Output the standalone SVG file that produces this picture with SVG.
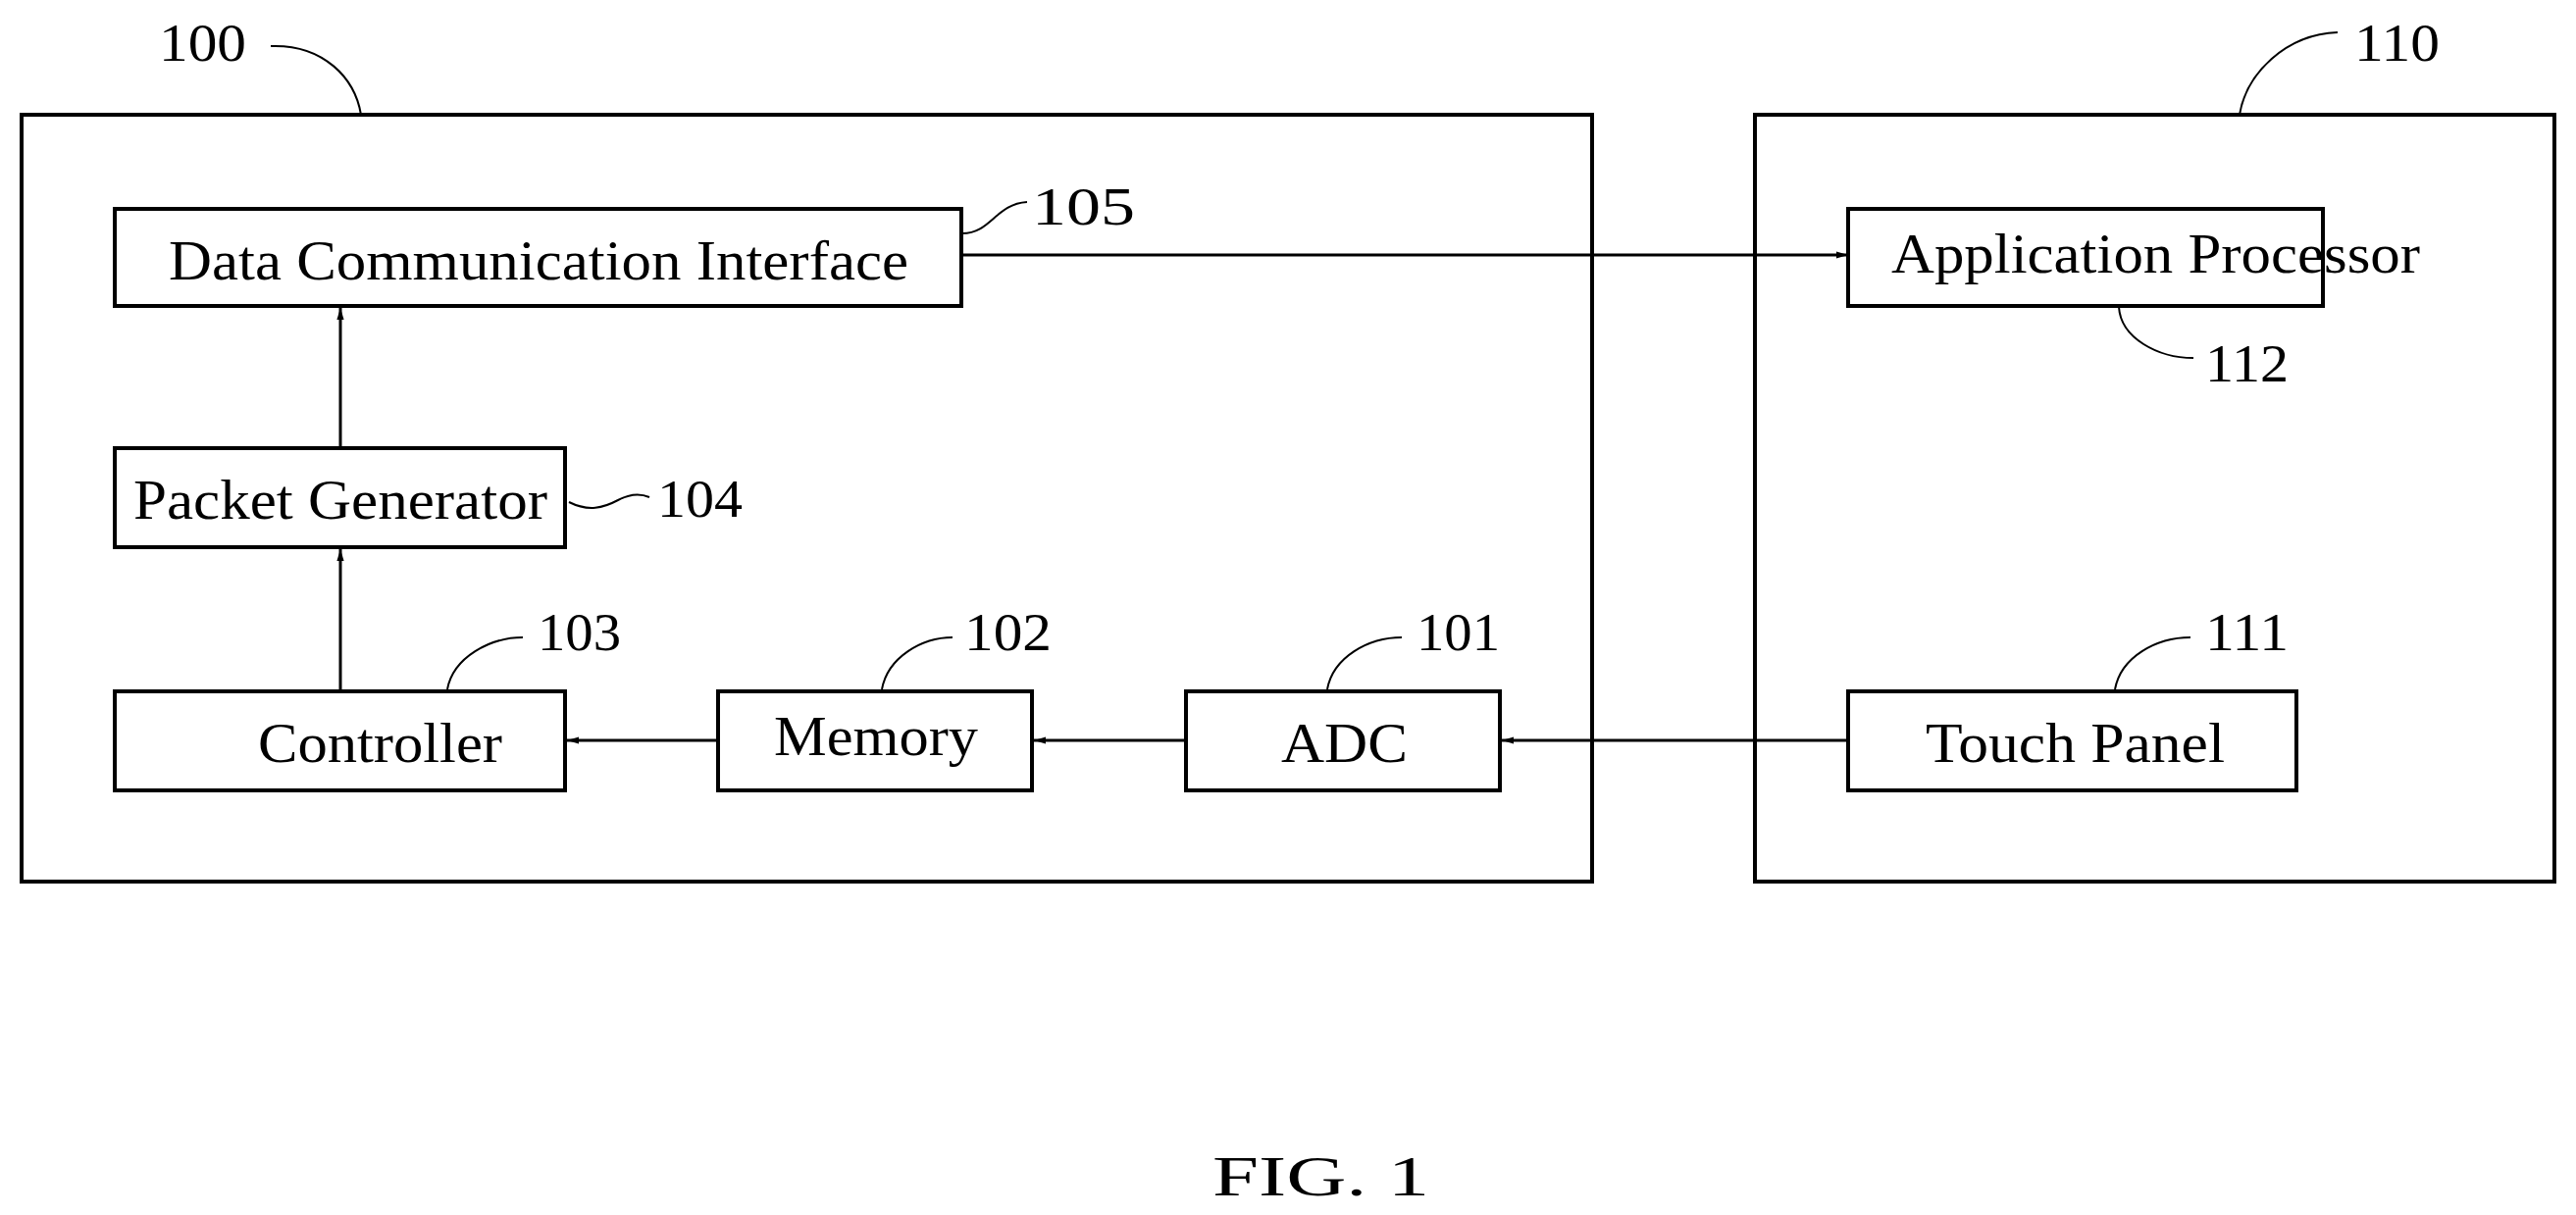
<svg xmlns="http://www.w3.org/2000/svg" width="2626" height="1239" viewBox="0 0 2626 1239">
<style>
.b{fill:none;stroke:#000;stroke-width:4}
.c{fill:none;stroke:#000;stroke-width:3}
.l{fill:none;stroke:#000;stroke-width:2}
text{font-family:"Liberation Serif","Times New Roman",serif;fill:#000;font-size:56px}
.n{font-size:54px}
</style>
<defs>
<marker id="a" viewBox="0 0 10 10" refX="10" refY="5" markerWidth="22" markerHeight="12" markerUnits="userSpaceOnUse" orient="auto"><path d="M0,2 L10,5 L0,8 z" fill="#000"/></marker>
</defs>
<rect width="2626" height="1239" fill="#fff"/>
<g id="n100"><rect class="b" x="22" y="117" width="1601" height="782"/>
<text class="n" x="162" y="62" textLength="89" lengthAdjust="spacingAndGlyphs">100</text>
<path class="l" d="M276,47 C330,45 362,80 368,117"/></g>
<g id="n110"><rect class="b" x="1789" y="117" width="815" height="782"/>
<text class="n" x="2400" y="62" textLength="87" lengthAdjust="spacingAndGlyphs">110</text>
<path class="l" d="M2383,33 C2330,35 2290,75 2283,117"/></g>
<g id="n105"><rect class="b" x="117" y="213" width="863" height="99"/>
<text x="172" y="285" textLength="754" lengthAdjust="spacingAndGlyphs">Data Communication Interface</text>
<text class="n" x="1052" y="229" textLength="105" lengthAdjust="spacingAndGlyphs">105</text>
<path class="l" d="M981,238 C1010,238 1015,208 1047,206"/></g>
<g id="n104"><rect class="b" x="117" y="457" width="459" height="101"/>
<text x="136" y="529" textLength="422" lengthAdjust="spacingAndGlyphs">Packet Generator</text>
<text class="n" x="670" y="527" textLength="87" lengthAdjust="spacingAndGlyphs">104</text>
<path class="l" d="M580,512 C600,522 615,518 630,510 C645,502 655,504 662,507"/></g>
<g id="n103"><rect class="b" x="117" y="705" width="459" height="101"/>
<text x="263" y="777" textLength="249" lengthAdjust="spacingAndGlyphs">Controller</text>
<text class="n" x="548" y="663" textLength="85" lengthAdjust="spacingAndGlyphs">103</text>
<path class="l" d="M456,703 C462,670 500,650 533,650"/></g>
<g id="n102"><rect class="b" x="732" y="705" width="320" height="101"/>
<text x="789" y="770" textLength="208" lengthAdjust="spacingAndGlyphs">Memory</text>
<text class="n" x="983" y="663" textLength="89" lengthAdjust="spacingAndGlyphs">102</text>
<path class="l" d="M899,703 C905,670 940,650 971,650"/></g>
<g id="n101"><rect class="b" x="1209" y="705" width="320" height="101"/>
<text x="1306" y="777" textLength="129" lengthAdjust="spacingAndGlyphs">ADC</text>
<text class="n" x="1444" y="663" textLength="85" lengthAdjust="spacingAndGlyphs">101</text>
<path class="l" d="M1353,703 C1359,670 1395,650 1429,650"/></g>
<g id="n111"><rect class="b" x="1884" y="705" width="457" height="101"/>
<text x="1963" y="777" textLength="305" lengthAdjust="spacingAndGlyphs">Touch Panel</text>
<text class="n" x="2248" y="663" textLength="85" lengthAdjust="spacingAndGlyphs">111</text>
<path class="l" d="M2156,703 C2162,670 2198,650 2233,650"/></g>
<g id="n112"><rect class="b" x="1884" y="213" width="484" height="99"/>
<text x="1928" y="278" textLength="539" lengthAdjust="spacingAndGlyphs">Application Processor</text>
<text class="n" x="2248" y="389" textLength="85" lengthAdjust="spacingAndGlyphs">112</text>
<path class="l" d="M2160,313 C2162,345 2200,365 2236,365"/></g>
<g id="connectors">
<line class="c" x1="980" y1="260" x2="1884" y2="260" marker-end="url(#a)"/>
<line class="c" x1="347" y1="457" x2="347" y2="314" marker-end="url(#a)"/>
<line class="c" x1="347" y1="705" x2="347" y2="560" marker-end="url(#a)"/>
<line class="c" x1="1884" y1="755" x2="1531" y2="755" marker-end="url(#a)"/>
<line class="c" x1="1209" y1="755" x2="1054" y2="755" marker-end="url(#a)"/>
<line class="c" x1="732" y1="755" x2="578" y2="755" marker-end="url(#a)"/>
</g>
<text x="1236" y="1219" font-size="80" textLength="221" lengthAdjust="spacingAndGlyphs">FIG. 1</text>
</svg>
